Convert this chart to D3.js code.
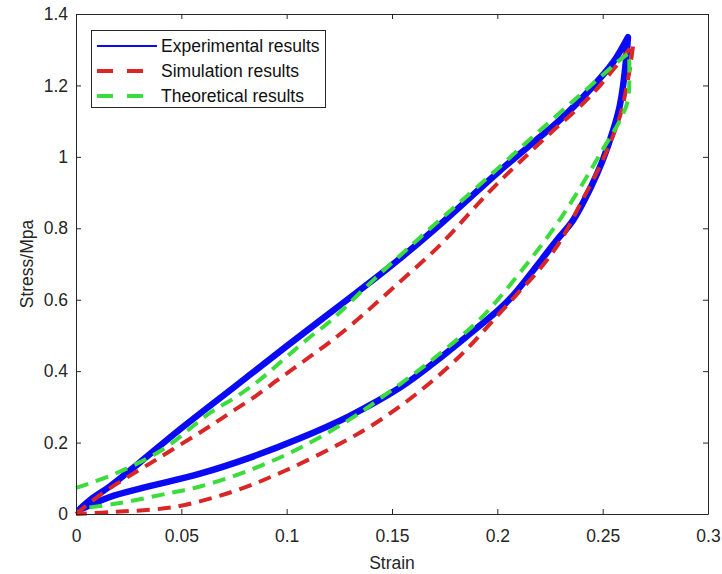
<!DOCTYPE html>
<html>
<head>
<meta charset="utf-8">
<script src="https://cdn.jsdelivr.net/npm/d3@7"></script>
<style>
  html, body { margin: 0; padding: 0; background: #fff; }
  svg { display: block; font-family: "Liberation Sans", Arial, sans-serif; }
</style>
</head>
<body>
<svg id="chart" width="722" height="574"></svg>
<script>
// ---- Data ----
const xTicks = [0, 0.05, 0.1, 0.15, 0.2, 0.25, 0.3];
const yTicks = [0, 0.2, 0.4, 0.6, 0.8, 1, 1.2, 1.4];
const seriesNames = ["Experimental results", "Simulation results", "Theoretical results"];

// each series: loading branch up to the peak, then unloading branch back down
const experimentalStrain = [0.002, 0.008, 0.016, 0.03, 0.05, 0.075, 0.1, 0.125, 0.15, 0.175, 0.2, 0.215, 0.23, 0.245, 0.255, 0.262,
  0.2614, 0.2596, 0.258, 0.255, 0.25, 0.244, 0.236, 0.228, 0.2076, 0.2012, 0.1854, 0.1696, 0.1538, 0.13, 0.1063, 0.0826, 0.0589, 0.0316, 0.0158, 0.003];
const experimentalStress = [0.015, 0.045, 0.077, 0.143, 0.24, 0.355, 0.47, 0.583, 0.697, 0.822, 0.955, 1.03, 1.105, 1.195, 1.265, 1.335,
  1.29, 1.196, 1.14, 1.075, 0.99, 0.91, 0.823, 0.765, 0.613, 0.575, 0.497, 0.422, 0.354, 0.275, 0.212, 0.158, 0.113, 0.073, 0.047, 0.015];

const simulationStrain = [0, 0.0125, 0.038, 0.062, 0.0731, 0.085, 0.0968, 0.1079, 0.1197, 0.1308, 0.152, 0.1728, 0.1917, 0.2, 0.21, 0.224, 0.245, 0.2645,
  0.2635, 0.2615, 0.258, 0.25, 0.24, 0.23, 0.22, 0.21, 0.2, 0.182, 0.16, 0.141, 0.125, 0.0984, 0.0746, 0.047, 0.019, 0];
const simulationStress = [0, 0.058, 0.152, 0.24, 0.283, 0.329, 0.38, 0.427, 0.478, 0.53, 0.641, 0.753, 0.874, 0.925, 0.982, 1.06, 1.175, 1.315,
  1.27, 1.2, 1.11, 0.99, 0.875, 0.765, 0.685, 0.62, 0.555, 0.441, 0.329, 0.25, 0.196, 0.119, 0.063, 0.02, 0.006, 0];

const theoreticalStrain = [0, 0.019, 0.041, 0.0636, 0.0763, 0.0873, 0.0984, 0.1095, 0.1205, 0.1415, 0.164, 0.196, 0.217, 0.24, 0.26, 0.2625,
  0.262, 0.258, 0.25, 0.24, 0.228, 0.214, 0.198, 0.1886, 0.1665, 0.1459, 0.13, 0.1063, 0.0826, 0.0589, 0.044, 0.02, 0.003];
const theoreticalStress = [0.073, 0.114, 0.18, 0.283, 0.329, 0.376, 0.432, 0.488, 0.539, 0.657, 0.778, 0.945, 1.057, 1.177, 1.28, 1.29,
  1.16, 1.1, 1.02, 0.92, 0.81, 0.7, 0.585, 0.528, 0.42, 0.33, 0.265, 0.185, 0.123, 0.077, 0.058, 0.03, 0.016];

// ---- Layout ----
const svg = d3.select("#chart");
const mLeft = 76, mRight = 708, mTop = 14, mBottom = 514;
const x = d3.scaleLinear().domain([0, 0.3]).range([mLeft, mRight]);
const y = d3.scaleLinear().domain([0, 1.4]).range([mBottom, mTop]);
const axisColor = "#262626";
const fontSize = "17.5px";

const series = [
  { name: seriesNames[0], xs: experimentalStrain, ys: experimentalStress, color: "#0a0af5", width: 6.5, dash: null },
  { name: seriesNames[1], xs: simulationStrain, ys: simulationStress, color: "#d92626", width: 4, dash: "13,8" },
  { name: seriesNames[2], xs: theoreticalStrain, ys: theoreticalStress, color: "#3ddc3d", width: 4, dash: "13,8" }
];

const line = d3.line()
  .x(d => x(d[0])).y(d => y(d[1]))
  .curve(d3.curveCatmullRom.alpha(0.5));

const plot = svg.append("g");
series.forEach(s => {
  const pts = s.xs.map((v, i) => [v, s.ys[i]]);
  // split at the peak so the loop keeps its sharp tip
  const peak = d3.maxIndex(s.ys);
  const up = pts.slice(0, peak + 1);
  const down = pts.slice(peak);
  const d = line(up) + line(down).replace(/^M/, "L");
  plot.append("path")
    .attr("d", d)
    .attr("fill", "none")
    .attr("stroke", s.color)
    .attr("stroke-width", s.width)
    .attr("stroke-linejoin", "round")
    .attr("stroke-linecap", s.dash ? "butt" : "round")
    .attr("stroke-dasharray", s.dash);
});

// ---- Axes (box with inward ticks) ----
const fmt = d => String(+d.toFixed(2));
const gx = svg.append("g").attr("transform", `translate(0,${mBottom})`)
  .call(d3.axisBottom(x).tickValues(xTicks).tickSizeInner(-5).tickSizeOuter(0).tickPadding(12).tickFormat(fmt));
const gxTop = svg.append("g").attr("transform", `translate(0,${mTop})`)
  .call(d3.axisTop(x).tickValues(xTicks).tickSizeInner(-5).tickSizeOuter(0).tickFormat(""));
const gy = svg.append("g").attr("transform", `translate(${mLeft},0)`)
  .call(d3.axisLeft(y).tickValues(yTicks).tickSizeInner(-5).tickSizeOuter(0).tickPadding(8).tickFormat(fmt));
const gyRight = svg.append("g").attr("transform", `translate(${mRight},0)`)
  .call(d3.axisRight(y).tickValues(yTicks).tickSizeInner(-5).tickSizeOuter(0).tickFormat(""));

[gx, gxTop, gy, gyRight].forEach(g => {
  g.selectAll("path.domain").attr("stroke", axisColor).attr("stroke-width", 1);
  g.selectAll(".tick line").attr("stroke", axisColor).attr("stroke-width", 1);
  g.selectAll(".tick text").attr("fill", axisColor).style("font-size", fontSize)
    .style("font-family", '"Liberation Sans", Arial, sans-serif');
});
gx.selectAll(".tick text").attr("dy", "0.9em");

// Axis labels
svg.append("text").attr("x", (mLeft + mRight) / 2).attr("y", 569)
  .attr("text-anchor", "middle").attr("fill", axisColor).style("font-size", fontSize).text("Strain");
svg.append("text").attr("transform", `translate(33,${(mTop + mBottom) / 2}) rotate(-90)`)
  .attr("text-anchor", "middle").attr("fill", axisColor).style("font-size", fontSize).text("Stress/Mpa");

// ---- Legend ----
const lg = svg.append("g");
lg.append("rect").attr("x", 91.5).attr("y", 30.5).attr("width", 234).attr("height", 77)
  .attr("fill", "#fff").attr("stroke", axisColor).attr("stroke-width", 1);
const legendWidths = [2, 4, 4];
series.forEach((s, i) => {
  const yy = 46 + i * 25;
  lg.append("line").attr("x1", 97).attr("x2", 157).attr("y1", yy).attr("y2", yy)
    .attr("stroke", s.color).attr("stroke-width", legendWidths[i])
    .attr("stroke-dasharray", s.dash ? "16,14" : null);
  lg.append("text").attr("x", 161).attr("y", yy).attr("dy", "0.35em")
    .attr("fill", "#111").style("font-size", fontSize).text(s.name);
});
</script>
</body>
</html>
